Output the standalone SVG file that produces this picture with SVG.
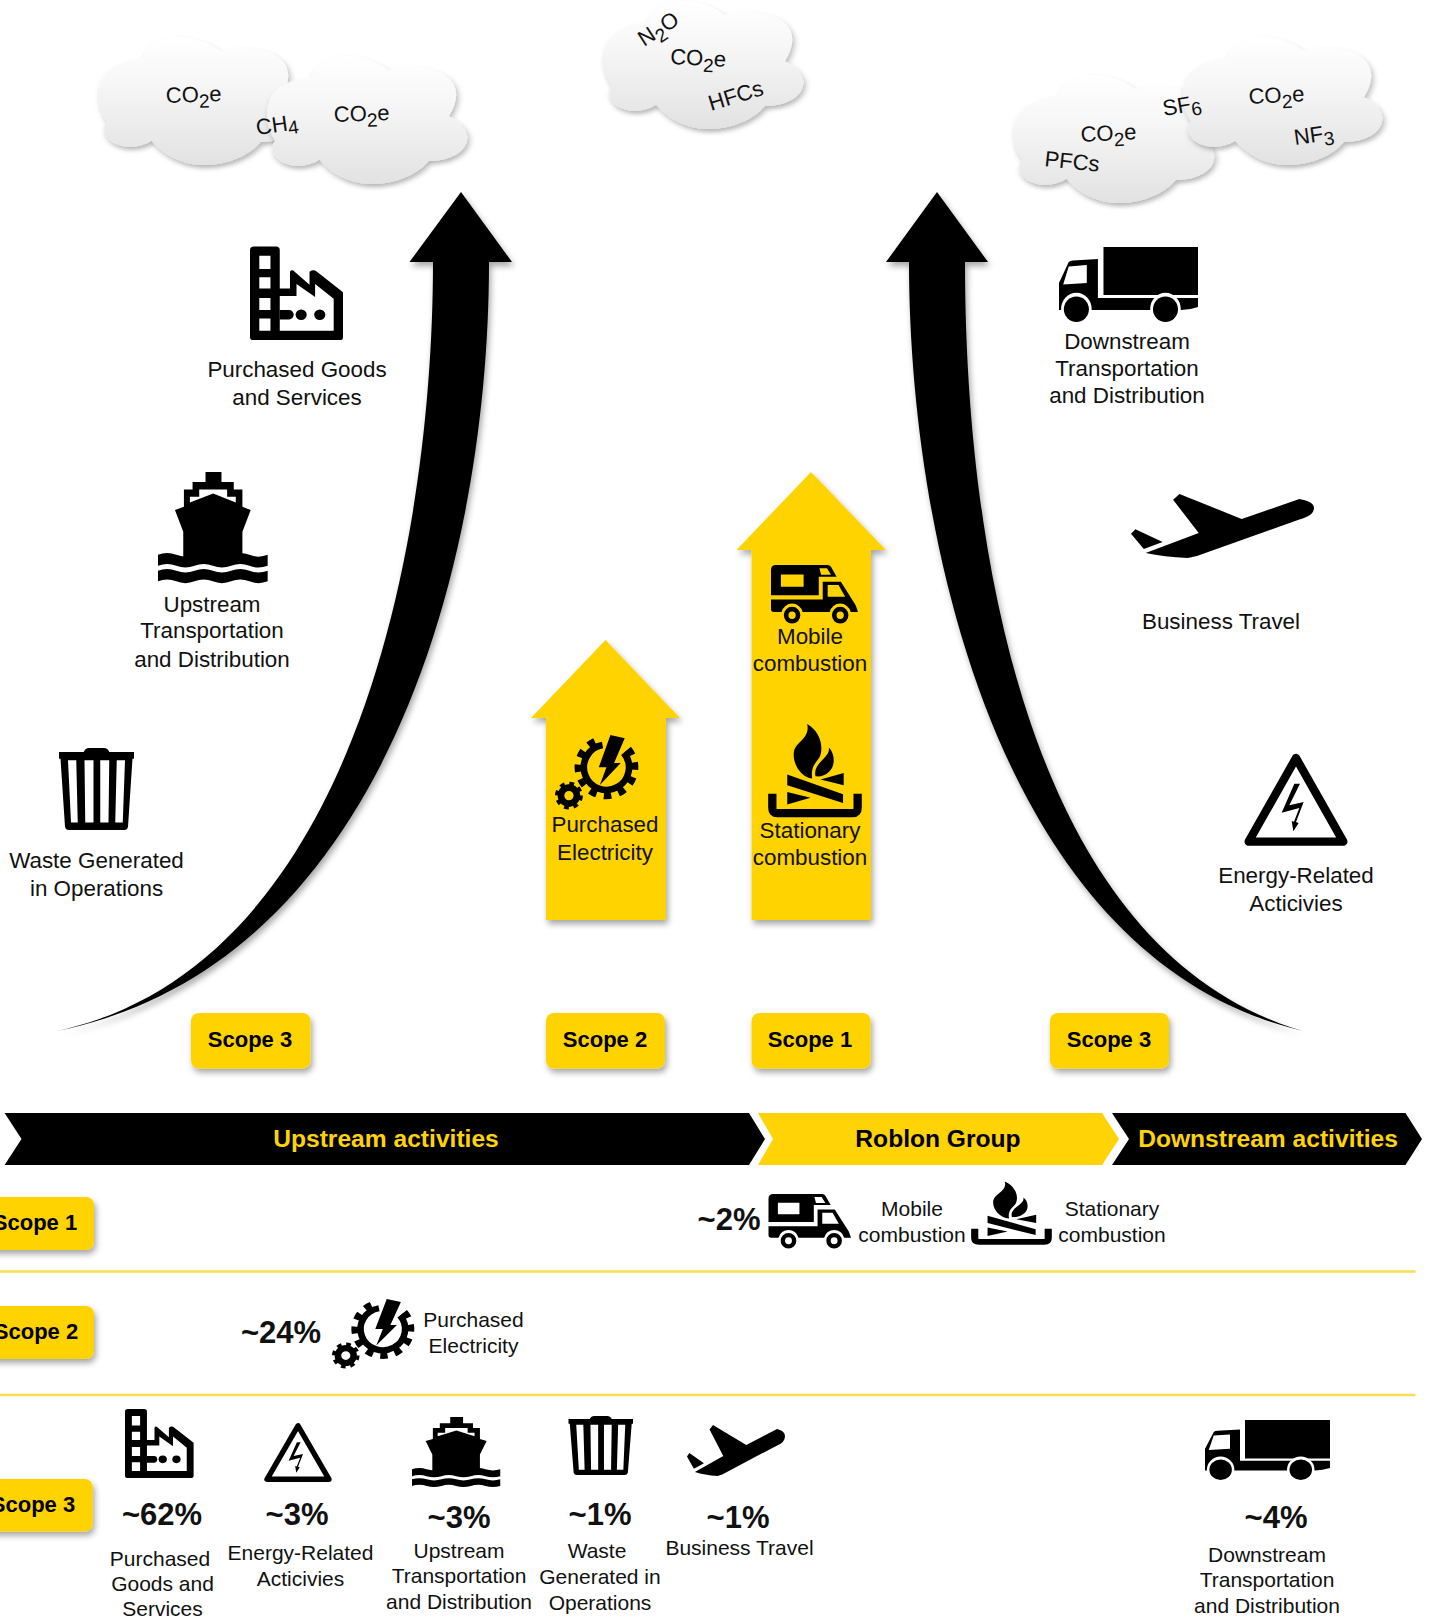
<svg xmlns="http://www.w3.org/2000/svg" xmlns:xlink="http://www.w3.org/1999/xlink" width="1432" height="1621" viewBox="0 0 1432 1621">
<style>
text{font-family:"Liberation Sans",Arial,sans-serif;fill:#111;font-size:21px;text-anchor:middle}
.l{font-size:22.4px}
.g{font-size:22px;text-anchor:start}
.s{font-size:19px}
.b{font-weight:700;font-size:22px;fill:#000}
.p{font-weight:700;font-size:31px;fill:#111}
.h{font-weight:700;font-size:24.6px;fill:#ffd306}
.hk{font-weight:700;font-size:24.6px;fill:#000}
.y{fill:#ffd306}
.k{fill:#000}
.line{stroke:#ffdc55;stroke-width:2.5;fill:none}
</style>
<defs>
<linearGradient id="cg" x1="0" y1="0" x2="0" y2="1"><stop offset="0" stop-color="#ffffff"/><stop offset=".35" stop-color="#f7f7f7"/><stop offset="1" stop-color="#e2e2e2"/></linearGradient>
<filter id="sh" x="-20%" y="-20%" width="140%" height="140%"><feDropShadow dx="2" dy="4" stdDeviation="3" flood-color="#000" flood-opacity=".35"/></filter>
<filter id="csh" x="-20%" y="-20%" width="140%" height="140%"><feDropShadow dx="1" dy="2.5" stdDeviation="1.5" flood-color="#000" flood-opacity=".28"/></filter>
<path id="cloud" d="M5,66C1,58 0,44 2,36C4,24 14,17 23,17C24,6 32,0 40,0C49,0 56,5 61,11C70,6 82,8 89,15C95,21 97,32 91,47C98,52 101,60 100,66C99,75 92,82 81,82C76,92 65,100 53,100C42,100 33,92 27,81C20,88 11,87 6,80C3,75 3,70 5,66Z"/>
<g id="factory"><path fill-rule="evenodd" d="M0,4Q0,0 4,0L28,0Q32,0 32,4L32,45L43,45L43,27Q45,24 48,27L64,41L64,27Q68,24 72,27L100,49L100,97Q100,100 97,100L3,100Q0,100 0,97ZM10,10L22,10L22,24L10,24ZM10,33L22,33L22,45L10,45ZM10,55L22,55L22,68L10,68ZM10,77L22,77L22,90L10,90ZM32,53L50,53L50,40L70,54L70,40L90,56L90,90L32,90Z"/><path d="M32,68L42,68A5,5 0 0 1 42,78L32,78Z"/><ellipse cx="55" cy="73" rx="6" ry="5.5"/><ellipse cx="75" cy="73" rx="6" ry="5.5"/></g>
<g id="ship"><path fill-rule="evenodd" d="M167,20L215,20L215,50L252,50L252,73L278,73L278,125L303,135L278,200L278,285L100,285L100,200L75,135L102,125L102,73L128,73L128,50L167,50ZM148,73L148,95L120,95L120,112L190,85L258,112L258,95L232,95L232,73Z"/><path d="M24,270q27.5,-11 55,0t55,0t55,0t55,0t55,0t55,0l0,33q-27.5,11 -55,0t-55,0t-55,0t-55,0t-55,0t-55,0Z"/><path d="M24,318q27.5,-11 55,0t55,0t55,0t55,0t55,0t55,0l0,32q-27.5,11 -55,0t-55,0t-55,0t-55,0t-55,0t-55,0Z"/></g>
<g id="trash"><path fill-rule="evenodd" d="M33,5Q35,0 40,0L60,0Q65,0 67,5L100,5L100,13L98,13L92,96Q91,100 87,100L13,100Q9,100 8,96L2,13L0,13L0,5ZM12,15L16,91L25,91L23,15ZM34,15L35,91L46,91L46,15ZM55,15L55,91L66,91L67,15ZM77,15L75,91L85,91L88,15Z"/></g>
<g id="truck"><path d="M32,0L100,0L100,64L32,64Z"/><path fill-rule="evenodd" d="M0,84L0,48L7,20Q8,18 10,18L28,16L28,68L100,68L100,80Q94,84 88,84ZM7,26L20,24L20,48L3,50Z"/><ellipse cx="12.5" cy="83" rx="11" ry="22" fill="#fff"/><ellipse cx="76.6" cy="83" rx="11" ry="22" fill="#fff"/><ellipse cx="12.5" cy="83" rx="9" ry="17"/><ellipse cx="76.6" cy="83" rx="9" ry="17"/></g>
<g id="plane"><path d="M26.5,0L23,9L37,61L8,92Q18,98 31,100L36,97L92,40Q100,34 100,22Q100,12 92,8L60.5,39Z"/><path d="M2.4,55L0,62L7,86L17.3,75Z"/></g>
<g id="gears"><g fill="none" stroke="#000"><path stroke-width="20" d="M237.1,81.3A68,68 0 1 1 173.2,58"/><path stroke-width="22" stroke-dasharray="22 22.5" d="M250.1,70.4A85,85 0 1 1 170.2,41.3"/><circle cx="72" cy="210" r="24" stroke-width="20"/><circle cx="72" cy="210" r="36" stroke-width="12" stroke-dasharray="14 14.3"/></g><path d="M197,28L240,38L208,112L228,112L165,178L185,125L162,125Z"/></g>
<g id="camper"><path fill-rule="evenodd" d="M33,105L33,30Q33,15 48,15L205,15Q212,15 216,22L232,50L178,50L178,105ZM63,43L132,43L132,80L63,80ZM180,25L203,25L215,44L185,44Z"/><path fill-rule="evenodd" d="M33,118L190,118L190,65L245,65L290,135L297,155L275,155A33,33 0 0 0 211,155L129,155A33,33 0 0 0 65,155L42,155Q33,155 33,147ZM205,75L238,75L258,110L205,110Z"/><g fill="none" stroke="#000" stroke-width="14"><circle cx="97" cy="165" r="18"/><circle cx="243" cy="165" r="18"/></g></g>
<g id="fire"><path d="M140,12C180,35 190,80 178,110C165,130 150,140 155,175C120,170 95,130 100,95C105,65 150,55 140,12Z"/><path d="M205,82C225,100 225,140 205,155C195,165 180,170 165,168C160,145 175,130 190,115C200,105 208,95 205,82Z"/><path d="M80,163L248,222L248,248L80,195Z"/><path d="M180,178L250,158L250,195Z"/><path d="M80,215L150,232L80,252Z"/><path fill="none" stroke="#000" stroke-width="25" d="M35,220L35,262Q35,278 50,278L278,278Q292,278 292,262L292,220"/></g>
<g id="hazard"><path fill="none" stroke="#000" stroke-width="25" stroke-linejoin="round" d="M170,23L28,274L312,274Z"/><path d="M165,100L182,100L150,165L193,155L170,215L178,218L162,243L157,212L164,214L180,173L127,187Z"/></g>
</defs>

<g id="clouds">
<use id="cloud-1" href="#cloud" transform="translate(97,37) scale(2.02,1.28)" fill="url(#cg)" filter="url(#csh)"/>
<use id="cloud-2" href="#cloud" transform="translate(265,56) scale(2.02,1.28)" fill="url(#cg)" filter="url(#csh)"/>
<use id="cloud-3" href="#cloud" transform="translate(602,1) scale(2.01,1.28)" fill="url(#cg)" filter="url(#csh)"/>
<use id="cloud-4" href="#cloud" transform="translate(1012,75) scale(2.02,1.28)" fill="url(#cg)" filter="url(#csh)"/>
<use id="cloud-5" href="#cloud" transform="translate(1181,37) scale(2.01,1.28)" fill="url(#cg)" filter="url(#csh)"/>
<text class="g" transform="translate(166,103) rotate(-2)">CO<tspan class="s" dy="6">2</tspan><tspan dy="-6">e</tspan></text>
<text class="g" transform="translate(257,135) rotate(-8)">CH<tspan class="s" dy="4">4</tspan></text>
<text class="g" transform="translate(334,122) rotate(-2)">CO<tspan class="s" dy="6">2</tspan><tspan dy="-6">e</tspan></text>
<text class="g" transform="translate(644,47) rotate(-33)">N<tspan class="s" dy="6">2</tspan><tspan dy="-6">O</tspan></text>
<text class="g" transform="translate(670,64) rotate(3)">CO<tspan class="s" dy="6">2</tspan><tspan dy="-6">e</tspan></text>
<text class="g" transform="translate(711,111) rotate(-17)">HFCs</text>
<text class="g" transform="translate(1081,142) rotate(-3)">CO<tspan class="s" dy="6">2</tspan><tspan dy="-6">e</tspan></text>
<text class="g" transform="translate(1044,166) rotate(6)">PFCs</text>
<text class="g" transform="translate(1164,116) rotate(-10)">SF<tspan class="s" dy="5">6</tspan></text>
<text class="g" transform="translate(1249,104) rotate(-3)">CO<tspan class="s" dy="6">2</tspan><tspan dy="-6">e</tspan></text>
<text class="g" transform="translate(1295,145) rotate(-8)">NF<tspan class="s" dy="5">3</tspan></text>
</g>

<g id="connectors">
<path id="arrow-left" class="k" filter="url(#sh)" d="M461,192L512,262L489,262C489,560 385,965 57,1031C360,965 433,530 433,262L409.5,262Z"/>
<path id="arrow-right" class="k" filter="url(#sh)" d="M937,192L988,262L965,262C965,540 1025,950 1303,1031C1000,960 909,540 909,262L886,262Z"/>
<path id="arrow-scope2" class="y" filter="url(#sh)" d="M605.5,640L680,718L666,718L666,920L546,920L546,718L531,718Z"/>
<path id="arrow-scope1" class="y" filter="url(#sh)" d="M811,472L886,550L871,550L871,920L751.6,920L751.6,550L736.5,550Z"/>
</g>

<g id="purchased-goods"><use href="#factory" transform="translate(250,246.5) scale(.93,.935)"/><text class="l" x="297" y="377">Purchased Goods</text><text class="l" x="297" y="405">and Services</text></g>
<g id="upstream-transport"><use href="#ship" transform="translate(158,472) scale(.3323,.3313) translate(-24,-20)"/><text class="l" x="212" y="612">Upstream</text><text class="l" x="212" y="638">Transportation</text><text class="l" x="212" y="667">and Distribution</text></g>
<g id="waste"><use href="#trash" transform="translate(59,748) scale(.75,.82)"/><text class="l" x="96.5" y="868">Waste Generated</text><text class="l" x="96.5" y="896">in Operations</text></g>
<g id="purchased-electricity"><use href="#gears" transform="translate(555,734) scale(.332,.333) translate(-30,-25)"/><text class="l" x="605" y="832">Purchased</text><text class="l" x="605" y="860">Electricity</text></g>
<g id="mobile"><use href="#camper" transform="translate(771,565) scale(.3295,.335) translate(-33,-15)"/><text class="l" x="810" y="644">Mobile</text><text class="l" x="810" y="671">combustion</text></g>
<g id="stationary"><use href="#fire" transform="translate(768,724) scale(.332,.335) translate(-22,-12)"/><text class="l" x="810" y="838">Stationary</text><text class="l" x="810" y="865">combustion</text></g>
<g id="downstream-transport"><use href="#truck" transform="translate(1059,247) scale(1.39,.75)"/><text class="l" x="1127" y="349">Downstream</text><text class="l" x="1127" y="376">Transportation</text><text class="l" x="1127" y="403">and Distribution</text></g>
<g id="business-travel"><use href="#plane" transform="translate(1131,494) scale(1.83,.64)"/><text class="l" x="1221" y="629">Business Travel</text></g>
<g id="energy"><use href="#hazard" transform="translate(1244,753) scale(.3333,.3333) translate(-14,-8)"/><text class="l" x="1296" y="883">Energy-Related</text><text class="l" x="1296" y="911">Acticivies</text></g>

<g id="chips">
<g id="chip-s3a"><rect class="y" filter="url(#sh)" x="191" y="1013" width="119.5" height="55.5" rx="8"/><text class="b" x="250" y="1047">Scope 3</text></g>
<g id="chip-s2"><rect class="y" filter="url(#sh)" x="546" y="1013" width="119" height="55.5" rx="8"/><text class="b" x="605" y="1047">Scope 2</text></g>
<g id="chip-s1"><rect class="y" filter="url(#sh)" x="751.6" y="1013" width="119" height="55.5" rx="8"/><text class="b" x="810" y="1047">Scope 1</text></g>
<g id="chip-s3b"><rect class="y" filter="url(#sh)" x="1050" y="1013" width="119" height="55.5" rx="8"/><text class="b" x="1109" y="1047">Scope 3</text></g>
</g>

<g id="banner">
<g id="upstream"><path class="k" d="M4.6,1113L749,1113L765,1139L749,1165L4.6,1165L21.5,1139Z"/><text class="h" x="386" y="1147">Upstream activities</text></g>
<g id="roblon"><path class="y" d="M758,1113L1102,1113L1119,1139L1102,1165L758,1165L773,1139Z"/><text class="hk" x="938" y="1147">Roblon Group</text></g>
<g id="downstream"><path class="k" d="M1112,1113L1405.5,1113L1422,1139L1405.5,1165L1112,1165L1129,1139Z"/><text class="h" x="1268" y="1147">Downstream activities</text></g>
</g>

<g id="rows">
<line class="line" x1="0" y1="1271.5" x2="1415.5" y2="1271.5"/>
<line class="line" x1="0" y1="1395" x2="1415.5" y2="1395"/>
<g id="row-s1"><rect class="y" filter="url(#sh)" x="-20" y="1197" width="114" height="53" rx="8"/><text class="b" x="35" y="1230">Scope 1</text></g>
<g id="row-s2"><rect class="y" filter="url(#sh)" x="-20" y="1306" width="114" height="53" rx="8"/><text class="b" x="36" y="1339">Scope 2</text></g>
<g id="row-s3"><rect class="y" filter="url(#sh)" x="-20" y="1479" width="112.7" height="52.5" rx="8"/><text class="b" x="33" y="1512">Scope 3</text></g>

<g id="r-mobile"><text class="p" x="729" y="1230">~2%</text><use href="#camper" transform="translate(768.5,1194) scale(.3125,.312) translate(-33,-15)"/><text x="912" y="1216">Mobile</text><text x="912" y="1242">combustion</text></g>
<g id="r-stationary"><use href="#fire" transform="translate(971,1181.6) scale(.286,.2266) translate(-22,-12)"/><text x="1112" y="1216">Stationary</text><text x="1112" y="1242">combustion</text></g>
<g id="r-electricity"><text class="p" x="281" y="1343">~24%</text><use href="#gears" transform="translate(332,1298) scale(.328,.311) translate(-30,-25)"/><text x="473.5" y="1327">Purchased</text><text x="473.5" y="1353">Electricity</text></g>
<g id="r-goods"><use href="#factory" transform="translate(125,1409) scale(.686,.69)"/><text class="p" x="162" y="1525">~62%</text><text x="160" y="1566">Purchased</text><text x="162.5" y="1591">Goods and</text><text x="162.5" y="1616">Services</text></g>
<g id="r-energy"><use href="#hazard" transform="translate(264,1422.6) scale(.218,.2129) translate(-14,-8)"/><text class="p" x="297" y="1525">~3%</text><text x="300.5" y="1560">Energy-Related</text><text x="300.5" y="1586">Acticivies</text></g>
<g id="r-ship"><use href="#ship" transform="translate(412,1417) scale(.2674,.209) translate(-24,-20)"/><text class="p" x="459" y="1528">~3%</text><text x="459" y="1558">Upstream</text><text x="459" y="1583">Transportation</text><text x="459" y="1609">and Distribution</text></g>
<g id="r-waste"><use href="#trash" transform="translate(568.5,1416) scale(.645,.59)"/><text class="p" x="600" y="1525">~1%</text><text x="597" y="1558">Waste</text><text x="600" y="1584">Generated in</text><text x="600" y="1610">Operations</text></g>
<g id="r-travel"><use href="#plane" transform="translate(687,1425) scale(.98,.51)"/><text class="p" x="738" y="1528">~1%</text><text x="739.5" y="1555">Business Travel</text></g>
<g id="r-truck"><use href="#truck" transform="translate(1205,1420) scale(1.25,.6)"/><text class="p" x="1276" y="1528">~4%</text><text x="1267" y="1562">Downstream</text><text x="1267" y="1587">Transportation</text><text x="1267" y="1613">and Distribution</text></g>
</g>
</svg>
